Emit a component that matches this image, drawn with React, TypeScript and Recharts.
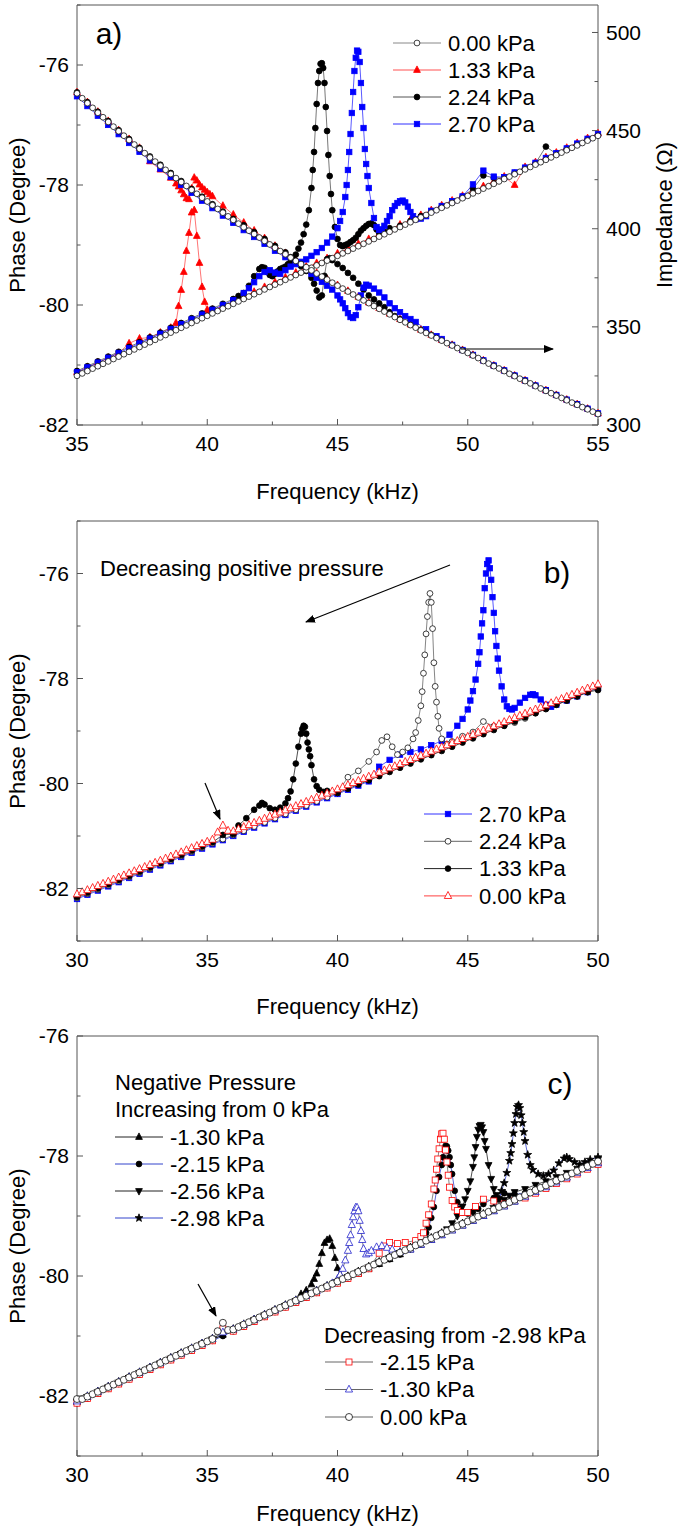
import React from "react";
import { LineChart, Line, XAxis, YAxis, Legend } from "recharts";

const FRAME = "#555";
const FONT = "'Liberation Sans', Arial, Helvetica, sans-serif";

// ---------- frequency grids (kHz) ----------
const A_F2 = [35,35.2,35.4,35.6,35.8,36,36.2,36.4,36.6,36.8,37,37.2,37.4,37.6,37.8,38,38.2,38.4,38.6,38.8,39,39.2,39.4,39.6,39.8,40,40.2,40.4,40.6,40.8,41,41.2,41.4,41.6,41.8,42,42.2,42.4,42.6,42.8,43,43.2,43.4,43.6,43.8,44,44.2,44.4,44.6,44.8,45,45.2,45.4,45.6,45.8,46,46.2,46.4,46.6,46.8,47,47.2,47.4,47.6,47.8,48,48.2,48.4,48.6,48.8,49,49.2,49.4,49.6,49.8,50,50.2,50.4,50.6,50.8,51,51.2,51.4,51.6,51.8,52,52.2,52.4,52.6,52.8,53,53.2,53.4,53.6,53.8,54,54.2,54.4,54.6,54.8,55];
const A_F4 = [35,35.4,35.8,36.2,36.6,37,37.4,37.8,38.2,38.6,39,39.4,39.8,40.2,40.6,41,41.4,41.8,42.2,42.6,43,43.4,43.8,44.2,44.6,45,45.4,45.8,46.2,46.6,47,47.4,47.8,48.2,48.6,49,49.4,49.8,50.2,50.6,51,51.4,51.8,52.2,52.6,53,53.4,53.8,54.2,54.6,55];
const BC_F2 = [30,30.2,30.4,30.6,30.8,31,31.2,31.4,31.6,31.8,32,32.2,32.4,32.6,32.8,33,33.2,33.4,33.6,33.8,34,34.2,34.4,34.6,34.8,35,35.2,35.4,35.6,35.8,36,36.2,36.4,36.6,36.8,37,37.2,37.4,37.6,37.8,38,38.2,38.4,38.6,38.8,39,39.2,39.4,39.6,39.8,40,40.2,40.4,40.6,40.8,41,41.2,41.4,41.6,41.8,42,42.2,42.4,42.6,42.8,43,43.2,43.4,43.6,43.8,44,44.2,44.4,44.6,44.8,45,45.2,45.4,45.6,45.8,46,46.2,46.4,46.6,46.8,47,47.2,47.4,47.6,47.8,48,48.2,48.4,48.6,48.8,49,49.2,49.4,49.6,49.8,50];
const BC_F4 = [30,30.4,30.8,31.2,31.6,32,32.4,32.8,33.2,33.6,34,34.4,34.8,35.2,35.6,36,36.4,36.8,37.2,37.6,38,38.4,38.8,39.2,39.6,40,40.4,40.8,41.2,41.6,42,42.4,42.8,43.2,43.6,44,44.4,44.8,45.2,45.6,46,46.4,46.8,47.2,47.6,48,48.4,48.8,49.2,49.6,50];

// ---------- ticks ----------
const A_XTICKS = [35, 37.5, 40, 42.5, 45, 47.5, 50, 52.5, 55];
const BC_XTICKS = [30, 32.5, 35, 37.5, 40, 42.5, 45, 47.5, 50];
const A_YTICKS = [-82, -81, -80, -79, -78, -77, -76, -75];
const B_YTICKS = [-83, -82, -81, -80, -79, -78, -77, -76, -75];
const C_YTICKS = [-83, -82, -81, -80, -79, -78, -77, -76];
const A_ZTICKS = [300, 325, 350, 375, 400, 425, 450, 475, 500];

// ---------- panel a : phase (deg) and impedance (ohm) ----------
const A000_PH = [-81.18,-81.14,-81.10,-81.06,-81.02,-80.98,-80.94,-80.90,-80.86,-80.82,
-80.78,-80.74,-80.70,-80.66,-80.62,-80.58,-80.54,-80.50,-80.46,-80.42,
-80.38,-80.34,-80.30,-80.26,-80.22,-80.18,-80.14,-80.10,-80.06,-80.02,
-79.98,-79.94,-79.90,-79.86,-79.82,-79.78,-79.74,-79.70,-79.66,-79.62,
-79.58,-79.54,-79.50,-79.46,-79.42,-79.38,-79.34,-79.30,-79.26,-79.22,
-79.18,-79.14,-79.10,-79.06,-79.02,-78.98,-78.94,-78.90,-78.86,-78.82,
-78.78,-78.74,-78.70,-78.66,-78.62,-78.58,-78.54,-78.50,-78.46,-78.42,
-78.38,-78.34,-78.30,-78.26,-78.22,-78.18,-78.14,-78.10,-78.06,-78.02,
-77.98,-77.94,-77.90,-77.86,-77.82,-77.78,-77.74,-77.70,-77.66,-77.62,
-77.58,-77.54,-77.50,-77.46,-77.42,-77.38,-77.34,-77.30,-77.26,-77.22,
-77.18];
const A000_Z = [469.0,466.5,464.0,461.6,459.1,456.8,454.4,452.0,449.7,447.4,
445.2,442.9,440.7,438.5,436.3,434.2,432.1,430.0,427.9,425.8,
423.8,421.8,419.8,417.8,415.8,413.9,412.0,410.1,408.2,406.3,
404.5,402.6,400.8,399.0,397.3,395.5,393.8,392.0,390.3,388.6,
387.0,385.3,383.6,382.0,380.4,378.8,377.2,375.6,374.1,372.5,
371.0,369.5,368.0,366.5,365.0,363.5,362.1,360.6,359.2,357.8,
356.4,355.0,353.6,352.3,350.9,349.6,348.2,346.9,345.6,344.3,
343.0,341.7,340.5,339.2,337.9,336.7,335.4,334.1,332.6,331.3,
330.0,328.8,327.5,326.1,324.9,323.6,322.4,321.2,319.8,318.6,
317.4,316.2,315.0,313.8,312.6,311.4,310.3,309.1,308.0,306.8,
305.6];

const A133_PH = [-81.12,-81.04,-80.96,-80.88,-80.80,-80.64,-80.56,-80.54,-80.46,-80.38,
-80.30,-78.46,-79.70,-80.08,-80.02,-79.94,-79.86,-79.78,-79.70,-79.62,
-79.54,-79.46,-79.38,-79.30,-79.22,-79.14,-79.06,-78.98,-78.90,-78.82,
-78.74,-78.66,-78.58,-78.50,-78.42,-78.34,-78.26,-78.18,-78.10,-78.02,
-77.94,-77.86,-78.00,-77.70,-77.62,-77.54,-77.46,-77.38,-77.30,-77.22,
-77.14];
const A133_Z = [469.5,464.5,459.6,454.9,450.2,445.7,441.2,434.3,430.1,425.9,
423.8,419.8,415.8,412.0,411.7,407.2,403.1,399.1,395.2,391.3,
387.6,383.9,380.7,377.5,374.4,371.3,368.3,365.3,362.4,359.5,
356.7,353.9,351.2,348.5,345.9,343.3,340.8,338.2,335.7,332.9,
330.3,327.8,325.2,322.7,320.1,317.7,315.3,312.9,310.6,308.3,
305.9];
const A133_PK_F = [38.8,38.9,39,39.1,39.2,39.3,39.4,39.5,39.6,39.7,39.8,39.9,40,40.1,40.2];
const A133_PK_PH = [-80.30,-80.02,-79.75,-79.45,-79.10,-78.80,-78.46,-78.42,-78.85,-79.30,-79.70,-79.95,-80.08,-80.10,-80.08];
const A133_PK_Z = [423.0,421.5,419.5,417.5,415.5,415.0,420.5,426.0,424.5,422.5,421.0,419.8,418.6,417.5,416.5];

const A224_PH = [-81.10,-81.02,-80.94,-80.86,-80.78,-80.70,-80.62,-80.54,-80.46,-80.38,
-80.30,-80.22,-80.14,-80.06,-79.98,-79.90,-79.90,-79.82,-79.74,-79.66,
-79.58,-79.50,-79.42,-79.34,-79.26,-79.18,-79.10,-79.02,-78.94,-78.86,
-78.78,-78.68,-78.60,-78.52,-78.44,-78.36,-78.28,-78.20,-78.06,-77.84,
-77.88,-77.88,-77.80,-77.72,-77.64,-77.36,-77.48,-77.40,-77.32,-77.24,
-77.16];
const A224_PK_F = [41.2,41.4,41.6,41.8,42,42.1,42.2,42.3,42.4,42.5,42.6,42.7,42.8,42.9,43,43.1,43.2,43.3,43.4,43.5,43.6,43.7,43.8,43.9,
44,44.05,44.1,44.15,44.2,44.25,44.3,44.35,44.4,44.45,44.5,44.55,44.6,44.65,44.7,44.75,44.8,
44.9,45,45.1,45.2,45.3,45.4,45.5,45.6,45.7,45.8,45.9,46,46.1,46.2,46.3,46.4,46.5,46.6,46.7,46.8,47];
const A224_PK_PH = [-79.85,-79.80,-79.68,-79.52,-79.40,-79.37,-79.38,-79.45,-79.50,-79.52,-79.48,-79.44,-79.40,-79.38,-79.36,-79.32,-79.28,-79.24,-79.16,-79.06,-78.96,-78.82,-78.66,-78.42,
-78.05,-77.75,-77.45,-77.05,-76.65,-76.30,-76.10,-75.98,-75.97,-76.05,-76.30,-76.70,-77.10,-77.50,-77.85,-78.15,-78.42,
-78.70,-78.90,-79.00,-79.02,-79.00,-78.98,-78.95,-78.92,-78.88,-78.82,-78.76,-78.72,-78.68,-78.65,-78.64,-78.67,-78.74,-78.80,-78.80,-78.78,-78.72];
const A224_Z = [469.5,464.5,459.6,454.9,450.2,445.7,441.2,436.8,432.6,428.4,
424.3,420.3,416.3,412.5,408.7,405.0,401.8,398.3,394.8,391.3,
388.0,383.6,380.4,377.2,374.1,371.0,368.0,365.0,362.1,359.2,
356.4,353.9,351.2,348.5,345.9,343.3,340.8,338.2,335.7,332.9,
330.3,327.8,325.2,322.7,320.1,317.7,315.3,312.9,310.6,308.3,
305.9];
const A224_ZPK_F = [43.2,43.4,43.6,43.8,44,44.1,44.2,44.3,44.4,44.5,44.6,44.7,44.8,45,45.2,45.4,45.6,45.8,46,46.2,46.4,46.6,46.8,47,47.2];
const A224_ZPK = [385.5,383.5,381.0,378.5,375.0,372.0,368.5,365.0,366.0,376.0,384.5,385.0,384.0,382.0,380.0,377.5,375.0,372.0,369.0,366.0,364.0,362.0,360.0,357.5,355.5];

const A270_PH = [-81.12,-81.04,-80.96,-80.88,-80.80,-80.72,-80.64,-80.56,-80.48,-80.40,
-80.32,-80.24,-80.16,-80.08,-80.00,-79.92,-79.80,-79.82,-79.74,-79.66,
-79.58,-79.50,-79.42,-79.34,-79.26,-79.18,-79.10,-79.02,-78.94,-78.86,
-78.78,-78.70,-78.62,-78.54,-78.43,-78.35,-78.27,-78.19,-77.99,-77.76,
-77.86,-77.87,-77.79,-77.71,-77.63,-77.55,-77.47,-77.39,-77.31,-77.23,
-77.15];
const A270_PK_F = [41.6,41.8,42,42.2,42.4,42.6,42.8,43,43.2,43.4,43.6,43.8,44,44.2,44.4,44.6,44.8,45,45.1,45.2,45.3,
45.35,45.4,45.45,45.5,45.55,45.6,45.65,45.7,45.75,45.8,45.85,45.9,45.95,46,46.05,46.1,46.15,
46.2,46.3,46.4,46.5,46.6,46.7,46.8,46.9,47,47.1,47.2,47.3,47.4,47.5,47.6,47.7,47.8,47.9,48,48.2,48.4];
const A270_PK_PH = [-79.72,-79.62,-79.52,-79.45,-79.42,-79.46,-79.48,-79.42,-79.36,-79.32,-79.28,-79.24,-79.18,-79.12,-79.05,-78.96,-78.86,-78.72,-78.60,-78.45,-78.20,
-78.00,-77.75,-77.45,-77.15,-76.80,-76.45,-76.10,-75.88,-75.76,-75.78,-75.95,-76.30,-76.70,-77.05,-77.40,-77.65,-77.85,
-78.05,-78.30,-78.55,-78.70,-78.75,-78.74,-78.68,-78.60,-78.52,-78.42,-78.35,-78.30,-78.27,-78.26,-78.29,-78.36,-78.45,-78.52,-78.57,-78.56,-78.52];
const A270_Z = [467.5,462.5,457.6,452.9,448.2,443.7,439.2,434.8,430.6,426.4,
422.3,418.3,414.3,410.5,406.7,403.0,399.3,395.8,392.3,388.8,
385.5,382.6,379.6,377.2,374.1,371.0,368.0,365.0,362.1,359.2,
356.4,353.6,350.9,348.2,345.6,343.0,340.8,338.2,335.7,332.9,
330.3,327.8,325.2,322.7,320.1,317.7,315.3,312.9,310.6,308.3,
305.9];
const A270_ZPK_F = [44,44.2,44.4,44.6,44.8,45,45.1,45.2,45.3,45.4,45.5,45.6,45.7,45.8,45.9,46,46.1,46.2,46.4,46.6,46.8,47,47.2,47.4,47.6,47.8,48,48.4,48.8,49];
const A270_ZPK = [377.0,375.0,373.0,371.0,369.0,366.0,364.0,362.0,359.5,357.0,355.0,354.5,356.0,360.0,366.0,370.0,371.5,371.0,369.5,367.5,365.0,362.0,359.5,357.5,355.5,354.0,352.5,348.8,345.3,343.8];

// ---------- panel b : decreasing positive pressure ----------
const B000 = [-82.11,-82.07,-82.03,-81.99,-81.95,-81.91,-81.87,-81.83,-81.79,-81.75,
-81.71,-81.67,-81.63,-81.59,-81.55,-81.51,-81.47,-81.43,-81.39,-81.35,
-81.31,-81.27,-81.23,-81.19,-81.15,-81.11,-81.07,-80.93,-80.80,-80.90,
-80.91,-80.87,-80.83,-80.79,-80.75,-80.71,-80.67,-80.63,-80.59,-80.55,
-80.51,-80.47,-80.43,-80.39,-80.35,-80.31,-80.27,-80.23,-80.19,-80.15,
-80.11,-80.07,-80.03,-79.99,-79.95,-79.91,-79.87,-79.83,-79.79,-79.75,
-79.71,-79.67,-79.63,-79.59,-79.55,-79.51,-79.47,-79.43,-79.39,-79.35,
-79.31,-79.27,-79.23,-79.19,-79.15,-79.11,-79.07,-79.03,-78.99,-78.95,
-78.91,-78.87,-78.83,-78.79,-78.75,-78.71,-78.67,-78.63,-78.59,-78.55,
-78.51,-78.47,-78.43,-78.39,-78.35,-78.31,-78.27,-78.23,-78.19,-78.15,
-78.11];
const B270 = [-82.20,-82.12,-82.04,-81.96,-81.88,-81.80,-81.72,-81.64,-81.56,-81.48,
-81.40,-81.32,-81.24,-81.16,-81.08,-81.00,-80.92,-80.84,-80.76,-80.68,
-80.60,-80.52,-80.44,-80.36,-80.28,-80.20,-80.12,-80.04,-79.96,-79.84,
-79.76,-79.68,-79.60,-79.52,-79.44,-79.36,-79.28,-79.20,-79.12,-79.04,
-78.96,-78.88,-78.80,-78.72,-78.64,-78.56,-78.50,-78.42,-78.34,-78.26,
-78.18];
const B270_PK_F = [41.6,42,42.4,42.8,43.2,43.6,44,44.3,44.6,44.8,45,45.1,45.2,45.3,45.4,
45.45,45.5,45.55,45.6,45.65,45.7,45.75,45.8,45.85,45.9,45.95,46,46.05,46.1,46.15,46.2,
46.3,46.4,46.5,46.6,46.7,46.8,47,47.2,47.4,47.5,47.6,47.8,48,48.2];
const B270_PK = [-79.68,-79.55,-79.45,-79.40,-79.35,-79.27,-79.19,-79.07,-78.90,-78.77,-78.59,-78.42,-78.24,-78.02,-77.72,
-77.50,-77.20,-76.95,-76.70,-76.28,-76.00,-75.82,-75.75,-75.90,-76.12,-76.45,-76.75,-77.10,-77.38,-77.62,-77.85,
-78.15,-78.40,-78.53,-78.58,-78.59,-78.56,-78.46,-78.37,-78.31,-78.30,-78.32,-78.40,-78.50,-78.54];
const B224 = [-82.18,-82.10,-82.02,-81.94,-81.86,-81.78,-81.70,-81.62,-81.54,-81.46,
-81.38,-81.30,-81.22,-81.14,-81.06,-80.98,-80.90,-80.82,-80.74,-80.66,
-80.58,-80.50,-80.42,-80.34,-80.26,-80.18,-80.08,-80.00,-79.92,-79.84,
-79.76,-79.68,-79.60,-79.52,-79.44,-79.36,-79.20,-79.10,-79.02,-78.82,
-78.91,-78.90,-78.84,-78.76,-78.66,-78.58,-78.50,-78.42,-78.34,-78.26,
-78.18];
const B224_PK_F = [40.4,40.8,41.2,41.5,41.7,41.9,42.1,42.3,42.5,42.7,42.9,43,43.1,43.2,
43.25,43.3,43.35,43.4,43.45,43.5,43.55,43.6,43.65,43.7,43.75,43.8,43.85,43.9,44,44.2];
const B224_PK = [-79.88,-79.76,-79.58,-79.40,-79.18,-79.11,-79.30,-79.45,-79.40,-79.32,-79.15,-79.03,-78.80,-78.52,
-78.25,-77.90,-77.55,-77.15,-76.82,-76.55,-76.38,-76.55,-77.05,-77.70,-78.15,-78.45,-78.72,-78.95,-79.15,-79.25];
const B133 = [-82.16,-82.08,-82.00,-81.92,-81.84,-81.76,-81.68,-81.60,-81.52,-81.44,
-81.36,-81.28,-81.20,-81.12,-80.98,-80.96,-80.88,-80.80,-80.72,-80.64,
-80.56,-80.48,-80.40,-80.32,-80.24,-80.18,-80.10,-80.02,-79.94,-79.86,
-79.78,-79.70,-79.62,-79.54,-79.46,-79.38,-79.30,-79.22,-79.14,-79.06,
-78.98,-78.90,-78.82,-78.74,-78.66,-78.58,-78.50,-78.42,-78.34,-78.26,
-78.22];
const B133_PK_F = [36.2,36.5,36.8,37,37.1,37.2,37.4,37.6,37.8,38,38.1,38.2,38.3,38.4,38.5,38.6,
38.65,38.7,38.75,38.8,38.85,38.9,38.95,39,39.1,39.2,39.3,39.45,39.6];
const B133_PK = [-80.80,-80.66,-80.50,-80.42,-80.37,-80.40,-80.47,-80.50,-80.46,-80.38,-80.28,-80.15,-79.92,-79.62,-79.30,-79.05,
-78.96,-78.90,-78.92,-79.05,-79.22,-79.35,-79.48,-79.65,-79.92,-80.05,-80.12,-80.16,-80.14];

// ---------- panel c : negative pressure ----------
const C000 = [-82.05,-82.05,-82.01,-81.97,-81.93,-81.89,-81.85,-81.81,-81.77,-81.73,
-81.69,-81.65,-81.61,-81.57,-81.53,-81.49,-81.45,-81.41,-81.37,-81.33,
-81.29,-81.25,-81.21,-81.17,-81.13,-81.09,-81.05,-80.92,-80.78,-80.90,
-80.89,-80.85,-80.81,-80.77,-80.73,-80.69,-80.65,-80.61,-80.57,-80.53,
-80.49,-80.45,-80.41,-80.37,-80.33,-80.29,-80.25,-80.21,-80.17,-80.13,
-80.09,-80.05,-80.01,-79.97,-79.93,-79.89,-79.85,-79.81,-79.77,-79.73,
-79.69,-79.65,-79.61,-79.57,-79.53,-79.49,-79.45,-79.41,-79.37,-79.33,
-79.29,-79.25,-79.21,-79.17,-79.13,-79.09,-79.05,-79.01,-78.97,-78.93,
-78.89,-78.85,-78.81,-78.77,-78.73,-78.69,-78.65,-78.61,-78.57,-78.53,
-78.49,-78.45,-78.41,-78.37,-78.33,-78.29,-78.25,-78.21,-78.17,-78.13,
-78.09];
const C130I = [-82.10,-82.02,-81.94,-81.86,-81.78,-81.70,-81.62,-81.54,-81.46,-81.38,
-81.30,-81.22,-81.14,-81.06,-80.98,-80.90,-80.82,-80.74,-80.66,-80.58,
-80.50,-80.42,-80.36,-80.28,-80.20,-80.12,-80.04,-79.96,-79.88,-79.80,
-79.72,-79.64,-79.56,-79.48,-79.40,-79.32,-79.24,-79.16,-79.08,-79.00,
-78.92,-78.84,-78.76,-78.68,-78.60,-78.52,-78.44,-78.36,-78.28,-78.20,
-78.12];
const C130I_PK_F = [38.6,38.8,39,39.1,39.2,39.3,39.4,39.5,39.6,39.7,39.8,39.9,40,40.1,40.2,40.4];
const C130I_PK = [-80.30,-80.24,-80.14,-80.05,-79.96,-79.80,-79.62,-79.45,-79.40,-79.38,-79.50,-79.70,-79.87,-79.98,-80.05,-80.02];
const C215I = [-82.12,-82.04,-81.96,-81.88,-81.80,-81.72,-81.64,-81.56,-81.48,-81.40,
-81.32,-81.24,-81.16,-81.08,-81.00,-80.92,-80.84,-80.76,-80.68,-80.60,
-80.52,-80.44,-80.36,-80.28,-80.20,-80.12,-80.04,-79.96,-79.88,-79.80,
-79.72,-79.64,-79.56,-79.48,-79.40,-79.32,-79.24,-79.16,-79.08,-79.00,
-78.92,-78.84,-78.76,-78.68,-78.56,-78.48,-78.40,-78.32,-78.24,-78.16,
-78.08];
const C215I_PK_F = [42.8,43,43.2,43.4,43.5,43.6,43.7,43.8,43.9,44,44.05,44.1,44.15,44.2,44.25,44.3,44.35,44.4,
44.5,44.6,44.7,44.8,45,45.2,45.4,45.6,46,46.4,46.8,47.2];
const C215I_PK = [-79.52,-79.48,-79.42,-79.28,-79.19,-79.03,-78.85,-78.58,-78.35,-78.15,-78.02,-77.90,-77.83,-77.84,-77.91,-78.02,-78.15,-78.30,
-78.58,-78.77,-78.88,-78.94,-78.96,-78.93,-78.88,-78.80,-78.70,-78.62,-78.64,-78.62];
const C256 = [-82.10,-82.02,-81.94,-81.86,-81.78,-81.70,-81.62,-81.54,-81.46,-81.38,
-81.30,-81.22,-81.14,-81.06,-80.98,-80.90,-80.82,-80.74,-80.66,-80.58,
-80.50,-80.42,-80.34,-80.26,-80.18,-80.10,-80.02,-79.94,-79.86,-79.78,
-79.70,-79.62,-79.54,-79.46,-79.38,-79.32,-79.24,-79.16,-79.08,-79.00,
-78.92,-78.84,-78.76,-78.55,-78.48,-78.42,-78.35,-78.28,-78.21,-78.14,
-78.06];
const C256_PK_F = [44,44.2,44.4,44.6,44.7,44.8,44.9,45,45.1,45.2,45.25,45.3,45.35,45.4,45.45,45.5,45.55,45.6,45.65,45.7,
45.8,45.9,46,46.1,46.2,46.4,46.6,46.8];
const C256_PK = [-79.30,-79.22,-79.12,-79.00,-78.92,-78.84,-78.72,-78.58,-78.42,-78.18,-78.02,-77.85,-77.68,-77.56,-77.50,-77.48,-77.52,-77.60,-77.75,-77.88,
-78.15,-78.38,-78.55,-78.65,-78.71,-78.73,-78.66,-78.60];
const C298 = [-82.08,-82.00,-81.92,-81.84,-81.76,-81.68,-81.60,-81.52,-81.44,-81.36,
-81.28,-81.20,-81.12,-81.04,-80.96,-80.88,-80.80,-80.72,-80.64,-80.56,
-80.48,-80.40,-80.32,-80.24,-80.16,-80.08,-80.00,-79.92,-79.84,-79.76,
-79.68,-79.60,-79.52,-79.44,-79.36,-79.28,-79.20,-79.12,-79.04,-78.96,
-78.88,-78.80,-78.72,-78.64,-78.56,-78.48,-78.40,-78.32,-78.24,-78.16,
-78.08];
const C298_PK_F = [46,46.2,46.3,46.4,46.5,46.6,46.65,46.7,46.75,46.8,46.85,46.9,46.95,47,47.05,47.1,47.15,47.2,
47.3,47.4,47.5,47.7,47.9,48.1,48.3,48.5,48.7,48.8,48.9,49.1,49.3,49.5,49.7,50];
const C298_PK = [-78.85,-78.72,-78.58,-78.45,-78.28,-78.08,-77.95,-77.80,-77.62,-77.45,-77.30,-77.18,-77.15,-77.20,-77.32,-77.45,-77.60,-77.75,
-77.98,-78.15,-78.23,-78.30,-78.33,-78.30,-78.24,-78.12,-78.04,-78.02,-78.05,-78.10,-78.14,-78.10,-78.06,-78.02];
const C215D = [-82.12,-82.04,-81.96,-81.88,-81.80,-81.72,-81.64,-81.56,-81.48,-81.40,
-81.32,-81.24,-81.16,-81.08,-80.88,-80.92,-80.84,-80.76,-80.68,-80.60,
-80.52,-80.44,-80.36,-80.28,-80.20,-80.12,-80.04,-79.96,-79.88,-79.80,
-79.72,-79.64,-79.56,-79.48,-79.40,-79.32,-79.24,-79.16,-79.08,-79.00,
-78.92,-78.84,-78.76,-78.70,-78.62,-78.54,-78.46,-78.38,-78.30,-78.22,
-78.14];
const C215D_PK_F = [41.6,41.8,42,42.3,42.6,43,43.2,43.3,43.4,43.5,43.6,43.7,
43.75,43.8,43.85,43.9,43.95,44,44.05,44.1,44.15,44.2,44.25,44.3,
44.4,44.5,44.6,44.8,45,45.3,45.6,46,46.4,46.8];
const C215D_PK = [-79.62,-79.50,-79.44,-79.46,-79.44,-79.41,-79.34,-79.28,-79.12,-78.98,-78.80,-78.55,
-78.40,-78.22,-78.05,-77.88,-77.72,-77.63,-77.62,-77.72,-77.90,-78.10,-78.32,-78.52,
-78.74,-78.85,-78.91,-78.94,-78.94,-78.84,-78.72,-78.75,-78.80,-78.74];
const C130D = [-82.09,-82.01,-81.93,-81.85,-81.77,-81.69,-81.61,-81.53,-81.45,-81.37,
-81.29,-81.21,-81.13,-81.05,-80.94,-80.89,-80.81,-80.73,-80.65,-80.57,
-80.49,-80.41,-80.33,-80.25,-80.17,-80.12,-80.04,-79.96,-79.88,-79.80,
-79.72,-79.64,-79.56,-79.48,-79.40,-79.32,-79.24,-79.16,-79.08,-79.00,
-78.92,-78.84,-78.76,-78.68,-78.60,-78.52,-78.44,-78.36,-78.28,-78.20,
-78.12];
const C130D_PK_F = [39.8,40,40.1,40.2,40.3,40.4,40.45,40.5,40.55,40.6,40.65,40.7,40.75,40.8,40.85,40.9,40.95,
41,41.1,41.2,41.3,41.5,41.7,41.9,42.1,42.4];
const C130D_PK = [-80.12,-80.05,-79.98,-79.88,-79.74,-79.58,-79.45,-79.32,-79.15,-79.02,-78.92,-78.86,-78.86,-78.92,-79.08,-79.25,-79.40,
-79.55,-79.64,-79.62,-79.58,-79.52,-79.50,-79.53,-79.56,-79.60];

// ---------- helpers ----------
type Pt = { f: number; v: number };
// coarse points, with the points inside a resonance window replaced by the finer ones
function join(f: number[], v: number[], pf: number[] = [], pv: number[] = []): Pt[] {
  const lo = pf.length ? pf[0] : Infinity;
  const hi = pf.length ? pf[pf.length - 1] : -Infinity;
  const out: Pt[] = [];
  f.forEach((x, i) => {
    if (x < lo - 1e-6 || x > hi + 1e-6) out.push({ f: x, v: v[i] });
  });
  pf.forEach((x, i) => out.push({ f: x, v: pv[i] }));
  return out.sort((a, b) => a.f - b.f);
}

type Mk = { shape: string; size: number; fill: string; stroke: string };

function Marker({ cx, cy, m }: { cx: number; cy: number; m: Mk }) {
  const s = m.size;
  const st = { fill: m.fill, stroke: m.stroke, strokeWidth: 0.8 };
  if (m.shape === "circle") return <circle cx={cx} cy={cy} r={s} {...st} />;
  if (m.shape === "square") return <rect x={cx - s} y={cy - s} width={2 * s} height={2 * s} {...st} />;
  if (m.shape === "up")
    return <polygon points={`${cx},${cy - s * 1.2} ${cx - s},${cy + s * 0.7} ${cx + s},${cy + s * 0.7}`} {...st} />;
  if (m.shape === "down")
    return <polygon points={`${cx},${cy + s * 1.2} ${cx - s},${cy - s * 0.7} ${cx + s},${cy - s * 0.7}`} {...st} />;
  const pts: string[] = [];
  for (let k = 0; k < 10; k++) {
    const r = k % 2 === 0 ? s * 1.35 : s * 0.55;
    const a = -Math.PI / 2 + (k * Math.PI) / 5;
    pts.push(`${cx + r * Math.cos(a)},${cy + r * Math.sin(a)}`);
  }
  return <polygon points={pts.join(" ")} {...st} />;
}

const dotFor = (m: Mk) => (p: any) => {
  const k = p.key ?? `d${p.index}`;
  if (p.cx == null || p.cy == null) return <g key={k} />;
  return <Marker key={k} cx={p.cx} cy={p.cy} m={m} />;
};

const isMajor = (v: number, every: number) => Math.abs(v / every - Math.round(v / every)) < 1e-6;

const makeTick = (side: string, every: number, label: boolean) => (p: any) => {
  const v = p.payload.value;
  const major = isMajor(v, every);
  const len = major ? 6 : 3.5;
  const { x, y } = p;
  let ln = null;
  let tx = null;
  if (side === "b") {
    ln = <line x1={x} x2={x} y1={y} y2={y - len} />;
    if (label && major) tx = <text x={x} y={y + 19} dy="0.35em" textAnchor="middle">{v}</text>;
  } else if (side === "t") {
    ln = <line x1={x} x2={x} y1={y} y2={y + len} />;
  } else if (side === "l") {
    ln = <line x1={x} x2={x + len} y1={y} y2={y} />;
    if (label && major) tx = <text x={x - 8} y={y} dy="0.35em" textAnchor="end">{v}</text>;
  } else {
    ln = <line x1={x} x2={x - len} y1={y} y2={y} />;
    if (label && major) tx = <text x={x + 8} y={y} dy="0.35em" textAnchor="start">{v}</text>;
  }
  return (
    <g>
      <g stroke={FRAME} strokeWidth={1}>{ln}</g>
      <g fill="#000" stroke="none" fontSize={21} fontFamily={FONT}>{tx}</g>
    </g>
  );
};

const MK = {
  openCircle: { shape: "circle", size: 2.9, fill: "#fff", stroke: "#111" },
  openCircleC: { shape: "circle", size: 3.5, fill: "#fff", stroke: "#111" },
  blackCircle: { shape: "circle", size: 2.9, fill: "#000", stroke: "#000" },
  redUp: { shape: "up", size: 3.4, fill: "#f00", stroke: "#f00" },
  blueSquare: { shape: "square", size: 2.7, fill: "#0000ff", stroke: "#0000ff" },
  redOpenUp: { shape: "up", size: 3.7, fill: "#fff", stroke: "#f00" },
  blackUp: { shape: "up", size: 3.4, fill: "#000", stroke: "#000" },
  blackDown: { shape: "down", size: 3.4, fill: "#000", stroke: "#000" },
  blackStar: { shape: "star", size: 3.1, fill: "#000", stroke: "#000" },
  redOpenSquare: { shape: "square", size: 3.0, fill: "#fff", stroke: "#f00" },
  blueOpenUp: { shape: "up", size: 3.6, fill: "#fff", stroke: "#22c" },
};

type S = { name: string; line: string; mk: Mk; data: Pt[]; z?: Pt[] };

const A_SERIES: S[] = [
  { name: "1.33 kPa", line: "#ff5050", mk: MK.redUp, data: join(A_F4, A133_PH, A133_PK_F, A133_PK_PH), z: join(A_F4, A133_Z, A133_PK_F, A133_PK_Z) },
  { name: "2.24 kPa", line: "#555", mk: MK.blackCircle, data: join(A_F4, A224_PH, A224_PK_F, A224_PK_PH), z: join(A_F4, A224_Z, A224_ZPK_F, A224_ZPK) },
  { name: "2.70 kPa", line: "#3030ff", mk: MK.blueSquare, data: join(A_F4, A270_PH, A270_PK_F, A270_PK_PH), z: join(A_F4, A270_Z, A270_ZPK_F, A270_ZPK) },
  { name: "0.00 kPa", line: "#888", mk: MK.openCircle, data: join(A_F2, A000_PH), z: join(A_F2, A000_Z) },
];
const A_LEGEND = [A_SERIES[3], A_SERIES[0], A_SERIES[1], A_SERIES[2]];

const B_SERIES: S[] = [
  { name: "2.70 kPa", line: "#3030ff", mk: MK.blueSquare, data: join(BC_F4, B270, B270_PK_F, B270_PK) },
  { name: "2.24 kPa", line: "#666", mk: MK.openCircle, data: join(BC_F4, B224, B224_PK_F, B224_PK) },
  { name: "1.33 kPa", line: "#222", mk: MK.blackCircle, data: join(BC_F4, B133, B133_PK_F, B133_PK) },
  { name: "0.00 kPa", line: "#ff4040", mk: MK.redOpenUp, data: join(BC_F2, B000) },
];

const C_INC: S[] = [
  { name: "-1.30 kPa", line: "#222", mk: MK.blackUp, data: join(BC_F4, C130I, C130I_PK_F, C130I_PK) },
  { name: "-2.15 kPa", line: "#3344cc", mk: MK.blackCircle, data: join(BC_F4, C215I, C215I_PK_F, C215I_PK) },
  { name: "-2.56 kPa", line: "#222", mk: MK.blackDown, data: join(BC_F4, C256, C256_PK_F, C256_PK) },
  { name: "-2.98 kPa", line: "#3344cc", mk: MK.blackStar, data: join(BC_F4, C298, C298_PK_F, C298_PK) },
];
const C_DEC: S[] = [
  { name: "-2.15 kPa", line: "#666", mk: MK.redOpenSquare, data: join(BC_F4, C215D, C215D_PK_F, C215D_PK) },
  { name: "-1.30 kPa", line: "#666", mk: MK.blueOpenUp, data: join(BC_F4, C130D, C130D_PK_F, C130D_PK) },
  { name: "0.00 kPa", line: "#666", mk: MK.openCircleC, data: join(BC_F2, C000) },
];

function seriesLine(s: S, key: string, y: string, data: Pt[]) {
  return (
    <Line
      key={key}
      xAxisId="b"
      yAxisId={y}
      data={data}
      dataKey="v"
      type="linear"
      stroke={s.line}
      strokeWidth={0.8}
      dot={dotFor(s.mk)}
      activeDot={false}
      isAnimationActive={false}
      legendType="none"
    />
  );
}

function LegendRows({ rows, x0, y0, dy }: { rows: S[]; x0: number; y0: number; dy: number }) {
  return (
    <g>
      {rows.map((r, i) => {
        const y = y0 + i * dy;
        return (
          <g key={r.name + i}>
            <line x1={x0} x2={x0 + 48} y1={y} y2={y} stroke={r.line} strokeWidth={1} />
            <Marker cx={x0 + 24} cy={y} m={r.mk} />
            <text x={x0 + 55} y={y} dy="0.35em" fontSize={22} fill="#000" fontFamily={FONT}>{r.name}</text>
          </g>
        );
      })}
    </g>
  );
}

type PanelProps = {
  top: number;
  height: number;
  topPad: number;
  xDomain: number[];
  xTicks: number[];
  yDomain: number[];
  yTicks: number[];
  titleOffset: number;
  right: React.ReactNode;
  lines: React.ReactNode[];
  legend: React.ReactNode;
};

// plot area is always 521 x 420 px, starting topPad px below the chart top
function Panel(p: PanelProps) {
  return (
    <div style={{ position: "absolute", left: 0, top: p.top }}>
      <LineChart width={685} height={p.height} margin={{ top: 0, right: 0, bottom: 0, left: 0 }}>
        <XAxis xAxisId="t" orientation="top" type="number" domain={p.xDomain} ticks={p.xTicks} interval={0}
          height={p.topPad} tick={makeTick("t", 5, false)} tickLine={false} tickSize={0} tickMargin={0} axisLine={{ stroke: FRAME }} />
        <XAxis xAxisId="b" type="number" dataKey="f" domain={p.xDomain} ticks={p.xTicks} interval={0}
          height={p.height - p.topPad - 420} tick={makeTick("b", 5, true)} tickLine={false} tickSize={0} tickMargin={0}
          axisLine={{ stroke: FRAME }}
          label={{ value: "Frequency (kHz)", position: "insideTop", offset: p.titleOffset, fontSize: 22, fill: "#000" }} />
        <YAxis yAxisId="l" type="number" domain={p.yDomain} ticks={p.yTicks} interval={0} width={77}
          tick={makeTick("l", 2, true)} tickLine={false} tickSize={0} tickMargin={0} axisLine={{ stroke: FRAME }}
          label={{ value: "Phase (Degree)", angle: -90, position: "insideLeft", offset: 17, fontSize: 22, fill: "#000", style: { textAnchor: "middle" } }} />
        {p.right}
        {p.lines}
        <Legend layout="vertical" verticalAlign="middle" align="center"
          wrapperStyle={{ left: 0, top: 0, width: 685, height: p.height, pointerEvents: "none" }}
          content={() => <svg width={685} height={p.height} style={{ display: "block" }}>{p.legend}</svg>} />
      </LineChart>
    </div>
  );
}

export default function App() {
  const aLines: React.ReactNode[] = [];
  A_SERIES.forEach((s, i) => {
    aLines.push(seriesLine(s, `aph${i}`, "l", s.data));
    aLines.push(seriesLine(s, `az${i}`, "r", s.z as Pt[]));
  });
  const bLines = B_SERIES.map((s, i) => seriesLine(s, `b${i}`, "l", s.data));
  const cLines = [...C_INC, ...C_DEC].map((s, i) => seriesLine(s, `c${i}`, "l", s.data));

  const rightPlain = (dom: number[], ticks: number[]) => (
    <YAxis yAxisId="r" orientation="right" type="number" domain={dom} ticks={ticks} interval={0} width={87}
      tick={makeTick("r", 2, false)} tickLine={false} tickSize={0} tickMargin={0} axisLine={{ stroke: FRAME }} />
  );

  return (
    <div style={{ position: "absolute", left: 0, top: 0, width: 685, height: 1529, background: "#fff", overflow: "hidden", fontFamily: FONT }}>
      <Panel
        top={-1} height={516} topPad={6} xDomain={[35, 55]} xTicks={A_XTICKS} yDomain={[-82, -75]} yTicks={A_YTICKS} titleOffset={58}
        right={
          <YAxis yAxisId="r" orientation="right" type="number" domain={[300, 514]} ticks={A_ZTICKS} interval={0} width={87}
            tick={makeTick("r", 50, true)} tickLine={false} tickSize={0} tickMargin={0} axisLine={{ stroke: FRAME }}
            label={{ value: "Impedance (Ω)", angle: -90, position: "insideRight", offset: 21, fontSize: 22, fill: "#000", style: { textAnchor: "middle" } }} />
        }
        lines={aLines}
        legend={<LegendRows rows={A_LEGEND} x0={393} y0={44} dy={27} />}
      />
      <Panel
        top={515} height={516} topPad={6} xDomain={[30, 50]} xTicks={BC_XTICKS} yDomain={[-83, -75]} yTicks={B_YTICKS} titleOffset={57}
        right={rightPlain([-83, -75], B_YTICKS)}
        lines={bLines}
        legend={<LegendRows rows={B_SERIES} x0={424} y0={299} dy={27.3} />}
      />
      <Panel
        top={1010} height={519} topPad={26} xDomain={[30, 50]} xTicks={BC_XTICKS} yDomain={[-83, -76]} yTicks={C_YTICKS} titleOffset={49}
        right={rightPlain([-83, -76], C_YTICKS)}
        lines={cLines}
        legend={
          <g>
            <text x={115} y={72} dy="0.35em" fontSize={22} fontFamily={FONT}>Negative Pressure</text>
            <text x={115} y={99} dy="0.35em" fontSize={22} fontFamily={FONT}>Increasing from 0 kPa</text>
            <LegendRows rows={C_INC} x0={115} y0={127} dy={27} />
            <text x={324} y={325} dy="0.35em" fontSize={22} fontFamily={FONT}>Decreasing from -2.98 kPa</text>
            <LegendRows rows={C_DEC} x0={325} y0={352} dy={27.5} />
          </g>
        }
      />
      <svg width={685} height={1529} style={{ position: "absolute", left: 0, top: 0, pointerEvents: "none" }}>
        <defs>
          <marker id="ah" markerWidth="10" markerHeight="8" refX="9" refY="4" orient="auto" markerUnits="userSpaceOnUse">
            <path d="M0,0 L10,4 L0,8 z" fill="#000" />
          </marker>
        </defs>
        <g fontFamily={FONT} fill="#000">
          <text x={109} y={33} dy="0.35em" fontSize={30} textAnchor="middle">a)</text>
          <text x={557} y={572} dy="0.35em" fontSize={30} textAnchor="middle">b)</text>
          <text x={560} y={1083} dy="0.35em" fontSize={30} textAnchor="middle">c)</text>
          <text x={100} y={568} dy="0.35em" fontSize={22}>Decreasing positive pressure</text>
        </g>
        <g stroke="#000" strokeWidth={1.2} markerEnd="url(#ah)">
          <line x1={461} y1={349} x2={553} y2={349} />
          <line x1={450} y1={565} x2={306} y2={622} />
          <line x1={205} y1={783} x2={220} y2={819} />
          <line x1={198} y1={1284} x2={216} y2={1316} />
        </g>
      </svg>
    </div>
  );
}
